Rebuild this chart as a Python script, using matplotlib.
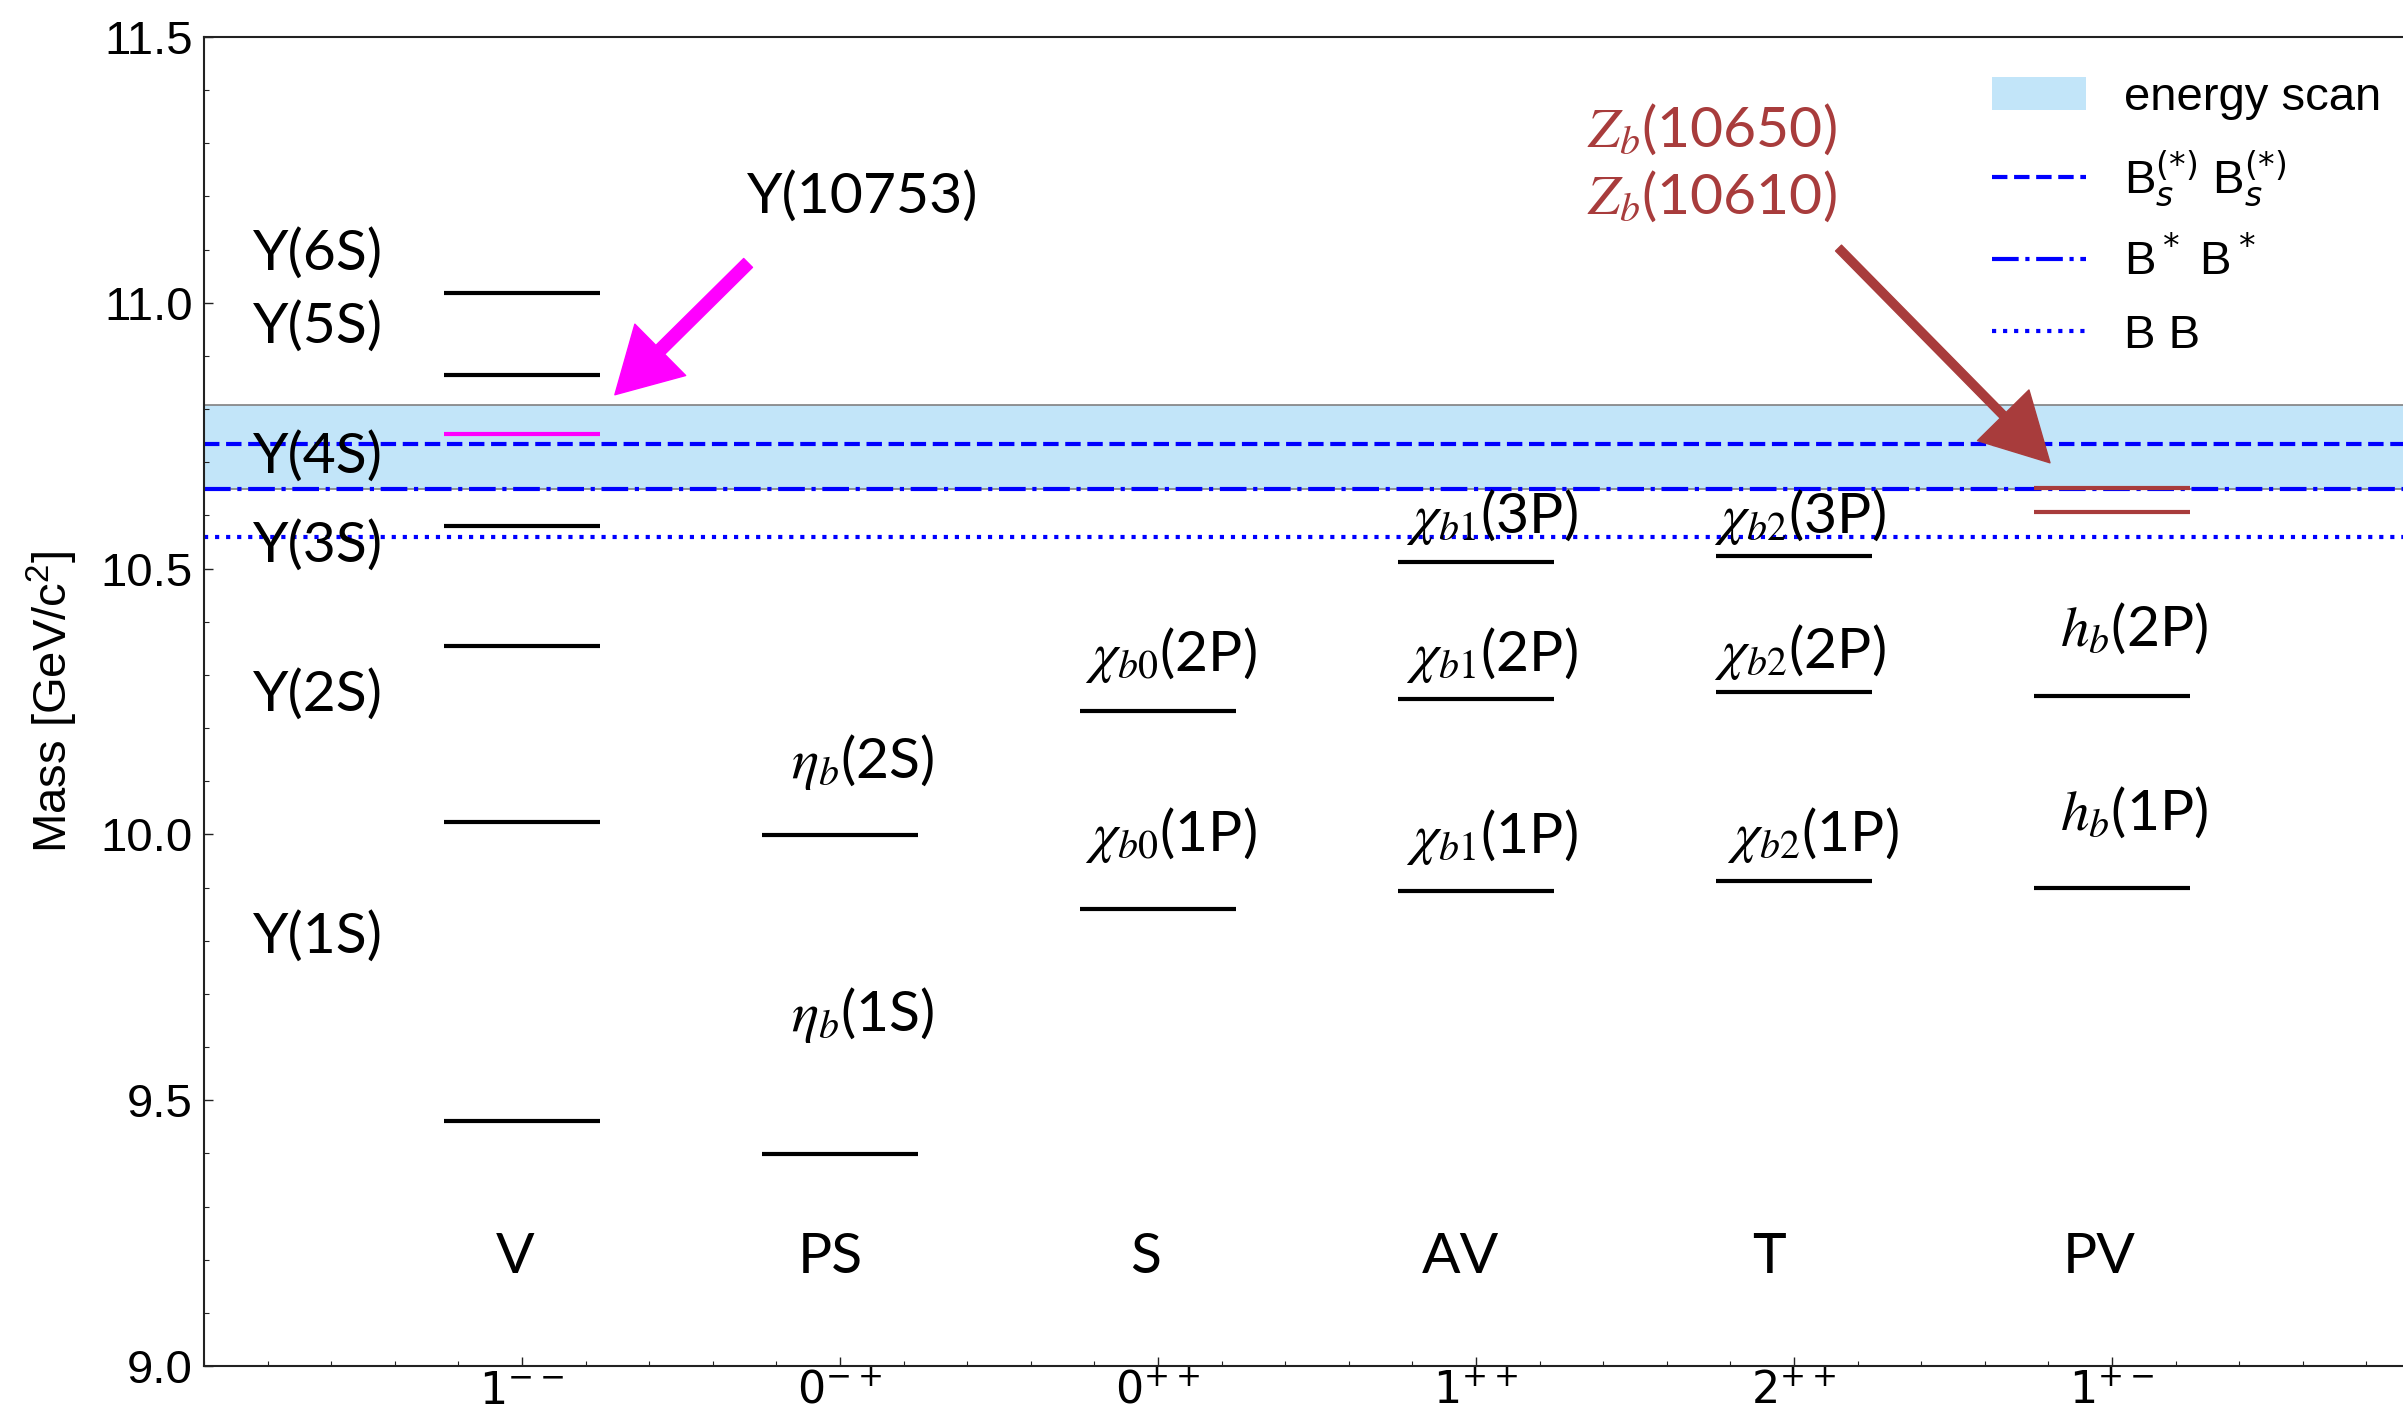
import matplotlib
matplotlib.use('Agg')
import matplotlib.pyplot as plt
from matplotlib.lines import Line2D
from matplotlib.patches import Patch
from matplotlib.ticker import MultipleLocator, FixedLocator

plt.rcParams['font.family'] = ['Liberation Sans', 'DejaVu Sans']

# J^PC columns (x = 1..6)
categories = ['V', 'PS', 'S', 'AV', 'T', 'PV']
jpc_labels = [r'$1^{--}$', r'$0^{-+}$', r'$0^{++}$', r'$1^{++}$', r'$2^{++}$', r'$1^{+-}$']

# bottomonium masses [GeV/c^2]
upsilon_masses = [9.4603, 10.0233, 10.3552, 10.5794, 10.865, 11.019]
upsilon_names = ['Υ(1S)', 'Υ(2S)', 'Υ(3S)', 'Υ(4S)', 'Υ(5S)', 'Υ(6S)']
y10753_mass = 10.753
etab_masses = [9.399, 9.999]
etab_names = [r'$\eta_b$(1S)', r'$\eta_b$(2S)']
chib0_masses = [9.8594, 10.2325]
chib0_names = [r'$\chi_{b0}$(1P)', r'$\chi_{b0}$(2P)']
chib1_masses = [9.8928, 10.2555, 10.512]
chib1_names = [r'$\chi_{b1}$(1P)', r'$\chi_{b1}$(2P)', r'$\chi_{b1}$(3P)']
chib2_masses = [9.9122, 10.2687, 10.524]
chib2_names = [r'$\chi_{b2}$(1P)', r'$\chi_{b2}$(2P)', r'$\chi_{b2}$(3P)']
hb_masses = [9.8993, 10.2598]
hb_names = [r'$h_b$(1P)', r'$h_b$(2P)']
zb_masses = [10.6072, 10.6522]

# open-bottom thresholds and energy scan range
bsbs_threshold = 10.7338
bstbst_threshold = 10.6494
bb_threshold = 10.559
scan_range = [10.65, 10.808]

# label placement (data coords)
upsilon_label_x = 0.154
upsilon_label_y = [9.807, 10.263, 10.543, 10.71, 10.955, 11.093]
etab_label_pos = [(2.07, 9.66), (2.07, 10.136)]
chib0_label_pos = [(3.04, 9.998), (3.04, 10.338)]
chib1_label_pos = [(4.05, 9.995), (4.05, 10.338), (4.05, 10.597)]
chib2_label_pos = [(5.06, 9.998), (5.02, 10.344), (5.02, 10.597)]
hb_label_pos = [(6.07, 10.041), (6.07, 10.387)]
cat_label_x = [0.98, 1.97, 2.96, 3.95, 4.92, 5.96]
cat_label_y = 9.205

half_w = 0.245
magenta = '#ff00ff'
brown = '#a83c3c'
scan_color = '#c2e5f9'
label_font = 'Lato'
label_size = 41

fig = plt.figure(figsize=(24.03, 14.13), dpi=100)
ax = fig.add_axes([204 / 2403, 47 / 1413, 7 * 318 / 2403, 1329 / 1413])
ax.set_xlim(0, 7)
ax.set_ylim(9.0, 11.5)

# energy scan band and thresholds
ax.axhspan(scan_range[0], scan_range[1], facecolor=scan_color, edgecolor='#808080', lw=1.2, zorder=1)
ax.axhline(bsbs_threshold, color='blue', ls='--', lw=3, zorder=2)
ax.axhline(bstbst_threshold, color='blue', ls='-.', lw=3, zorder=2)
ax.axhline(bb_threshold, color='blue', ls=':', lw=3, zorder=2)

columns = [upsilon_masses, etab_masses, chib0_masses, chib1_masses, chib2_masses, hb_masses]
for i, masses in enumerate(columns):
    x = i + 1
    ax.hlines(masses, x - half_w, x + half_w, colors='black', lw=3, zorder=3)

ax.hlines(y10753_mass, 1 - half_w, 1 + half_w, colors=magenta, lw=3, zorder=3)
ax.hlines(zb_masses, 6 - half_w, 6 + half_w, colors=brown, lw=3, zorder=3)

# level labels
txt = dict(fontsize=label_size, family=label_font, math_fontfamily='stix', zorder=5)
for name, y in zip(upsilon_names, upsilon_label_y):
    ax.text(upsilon_label_x, y, name, ha='left', va='center', **txt)
for names, positions in [(etab_names, etab_label_pos), (chib0_names, chib0_label_pos),
                         (chib1_names, chib1_label_pos), (chib2_names, chib2_label_pos),
                         (hb_names, hb_label_pos)]:
    for name, (x, y) in zip(names, positions):
        ax.text(x, y, name, ha='center', va='center', **txt)

for name, x in zip(categories, cat_label_x):
    ax.text(x, cat_label_y, name, ha='center', va='center', **txt)

ax.text(2.07, 11.2, 'Υ(10753)', ha='center', va='center', **txt)
ax.text(4.74, 11.327, r'$Z_b$(10650)', ha='center', va='center', color=brown, **txt)
ax.text(4.74, 11.2, r'$Z_b$(10610)', ha='center', va='center', color=brown, **txt)

# arrows
ax.annotate('', xy=(1.292, 10.827), xytext=(1.711, 11.075),
            arrowprops=dict(arrowstyle='simple,head_length=2.3,head_width=2.6,tail_width=0.45',
                            color=magenta, mutation_scale=20, shrinkA=0, shrinkB=0), zorder=6)
ax.annotate('', xy=(5.805, 10.699), xytext=(5.14, 11.103),
            arrowprops=dict(arrowstyle='simple,head_length=2.4,head_width=2.6,tail_width=0.3',
                            color=brown, mutation_scale=20, shrinkA=0, shrinkB=0), zorder=6)

# axes styling
ax.xaxis.set_major_locator(FixedLocator(range(1, 7)))
ax.set_xticklabels(jpc_labels)
ax.xaxis.set_minor_locator(MultipleLocator(0.2))
ax.yaxis.set_major_locator(MultipleLocator(0.5))
ax.yaxis.set_minor_locator(MultipleLocator(0.1))
ax.tick_params(which='both', direction='in', top=False, right=False, color='#222222')
ax.tick_params(which='major', length=6.5, width=1)
ax.tick_params(which='minor', length=3.5, width=0.8)
ax.tick_params(axis='y', labelsize=34, pad=8)
ax.tick_params(axis='x', labelsize=32, pad=4)
for s in ax.spines.values():
    s.set_linewidth(1.5)
    s.set_color('#222222')

ax.set_ylabel(r'Mass [GeV/c$^\mathregular{2}$]', fontsize=34)
ax.yaxis.set_label_coords(-0.0557, 0.5)

handles = [Patch(facecolor=scan_color, edgecolor='none'),
           Line2D([], [], color='blue', ls='--', lw=3),
           Line2D([], [], color='blue', ls='-.', lw=3),
           Line2D([], [], color='blue', ls=':', lw=3)]
labels = ['energy scan', r'B$_s^{(*)}$ B$_s^{(*)}$', r'B$^*$ B$^*$', 'B B']
ax.legend(handles, labels, loc='upper left', bbox_to_anchor=(1992 / 2403, 1 - 76 / 1413),
          bbox_transform=fig.transFigure, frameon=False, fontsize=34, handlelength=2.0,
          handletextpad=0.8, labelspacing=0.6, borderpad=0, borderaxespad=0)

fig.savefig('out.png', dpi=100)
